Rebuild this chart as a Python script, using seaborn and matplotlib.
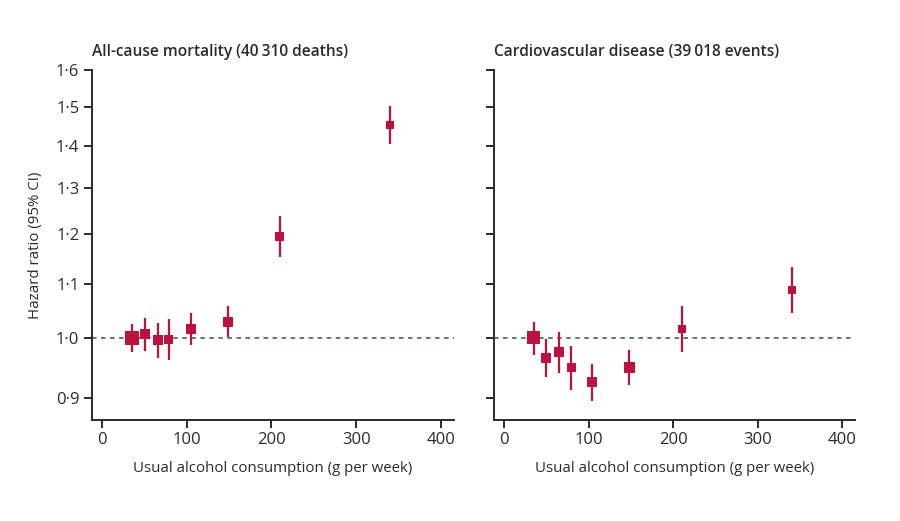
import matplotlib

matplotlib.use("Agg")  # no display
import matplotlib.pyplot as plt
import matplotlib.ticker as mticker
import numpy as np
import pandas as pd
import seaborn as sns

# --- data ---
consumption_all = [36, 51, 66, 79, 105, 149, 210, 340]
hr_all = [1.000, 1.007, 0.996, 0.997, 1.016, 1.028, 1.194, 1.453]
lo_all = [0.975, 0.977, 0.965, 0.962, 0.988, 1.001, 1.153, 1.405]
hi_all = [1.024, 1.035, 1.026, 1.033, 1.044, 1.058, 1.239, 1.502]
box_all = [14, 10, 10, 9, 10, 10, 9, 8]  # marker side, px (weight)

consumption_cvd = [35, 49, 65, 79, 104, 148, 210, 341]
hr_cvd = [1.000, 0.965, 0.975, 0.949, 0.925, 0.949, 1.016, 1.088]
lo_cvd = [0.971, 0.934, 0.941, 0.913, 0.896, 0.920, 0.976, 1.045]
hi_cvd = [1.028, 0.998, 1.011, 0.986, 0.955, 0.979, 1.058, 1.133]
box_cvd = [13, 10, 10, 9, 10, 11, 8, 8]

titles = ["All-cause mortality (40\u2009310 deaths)", "Cardiovascular disease (39\u2009018 events)"]
x_ticks = [0, 100, 200, 300, 400]
y_ticks = [0.9, 1.0, 1.1, 1.2, 1.3, 1.4, 1.5, 1.6]

RED = "#bd1240"
INK = "#2b2b2b"

sns.set_style("ticks")
plt.rcParams["font.family"] = ["Open Sans", "DejaVu Sans"]
plt.rcParams["text.color"] = INK
plt.rcParams["axes.labelcolor"] = INK
plt.rcParams["xtick.color"] = INK
plt.rcParams["ytick.color"] = INK

fig = plt.figure(figsize=(9, 5.21), dpi=100)
ax_l = fig.add_axes([0.102, 0.194, 0.402, 0.672])
ax_r = fig.add_axes([0.549, 0.194, 0.401, 0.672])

panels = [
    (ax_l, consumption_all, hr_all, lo_all, hi_all, box_all),
    (ax_r, consumption_cvd, hr_cvd, lo_cvd, hi_cvd, box_cvd),
]

for i, (ax, x, hr, lo, hi, box) in enumerate(panels):
    df = pd.DataFrame({"x": x, "hr": hr, "lo": lo, "hi": hi})
    ax.set_yscale("log")
    ax.axhline(1.0, color="#4f6f6c", linestyle=(0, (2.5, 2.5)), linewidth=1.3, zorder=1)
    ax.vlines(df["x"], df["lo"], df["hi"], color=RED, linewidth=1.6, zorder=2)
    # marker size: px side -> pt^2 area
    sizes = (np.array(box) * 72 / 100) ** 2
    sns.scatterplot(data=df, x="x", y="hr", marker="s", color=RED, s=sizes,
                    edgecolor="none", linewidth=0, ax=ax, zorder=3, legend=False)

    ax.set_xlim(-12, 415)
    ax.set_ylim(0.866, 1.6)
    ax.set_xticks(x_ticks)
    ax.set_yticks(y_ticks)
    ax.yaxis.set_minor_locator(mticker.NullLocator())
    ax.xaxis.set_major_formatter(mticker.FuncFormatter(lambda v, p: f"{v:.0f}"))
    if i == 0:
        ax.yaxis.set_major_formatter(
            mticker.FuncFormatter(lambda v, p: f"{v:.1f}".replace(".", "\u00b7")))
        ax.set_ylabel("Hazard ratio (95% CI)", fontsize=10.8, labelpad=9)
    else:
        ax.set_yticklabels([])
        ax.set_ylabel("")
    ax.set_xlabel("Usual alcohol consumption (g per week)", fontsize=10.8, labelpad=9)
    ax.set_title(titles[i], loc="left", fontsize=11.2, fontweight="semibold", pad=10)
    ax.tick_params(axis="both", length=6, width=1.4, labelsize=12, pad=3)
    for side in ["left", "bottom"]:
        ax.spines[side].set_linewidth(1.4)
        ax.spines[side].set_color(INK)
    sns.despine(ax=ax)

fig.savefig("out.png", dpi=100)
